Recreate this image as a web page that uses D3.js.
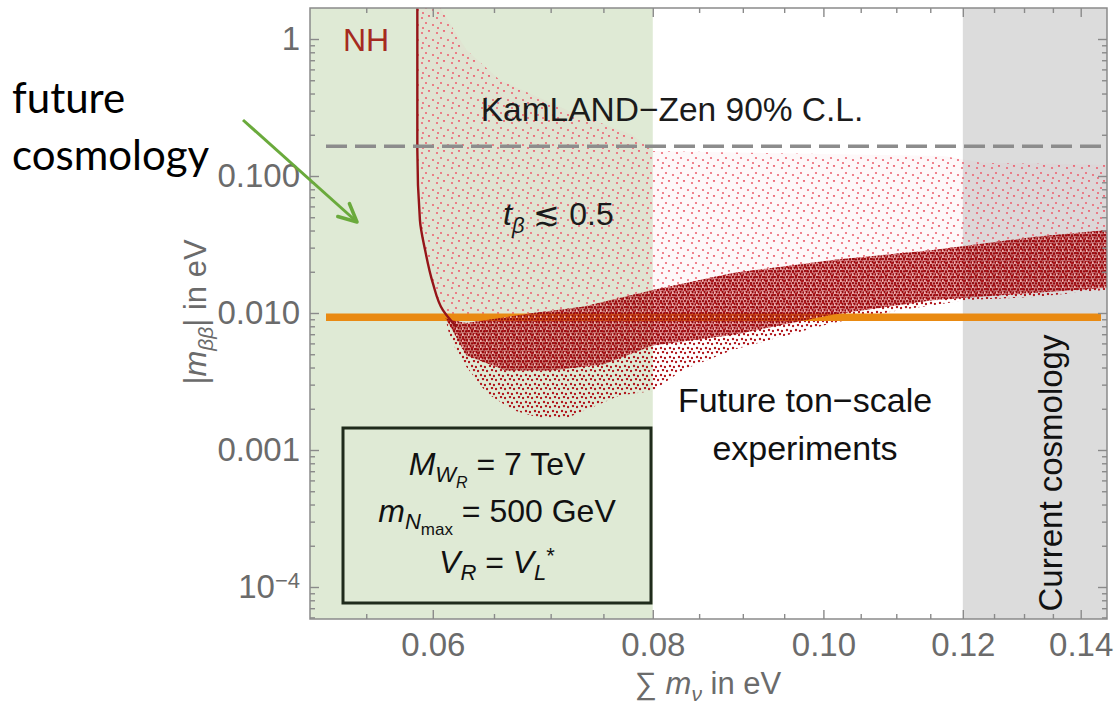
<!DOCTYPE html>
<html>
<head>
<meta charset="utf-8">
<script src="https://cdn.jsdelivr.net/npm/d3@7"></script>
<style>
body { margin: 0; background: #fff; }
svg { display: block; }
</style>
</head>
<body>
<div id="chart"></div>
<script>
// values: x = sum of neutrino masses (eV), y = |m_bb| (eV)
var edgeSum = [0.0588, 0.0588, 0.0590, 0.0594, 0.0600, 0.0608, 0.0619];
var edgeMbb = [1.68, 0.155, 0.0477, 0.0288, 0.0166, 0.0105, 0.0079];

var cloudTopSum = [0.0590, 0.0606, 0.0627, 0.0655, 0.0715, 0.0779, 0.0800, 0.1170, 0.1230, 0.1460];
var cloudTopMbb = [1.68, 1.68, 0.831, 0.502, 0.303, 0.199, 0.152, 0.140, 0.125, 0.120];

var bandUpperSum = [0.0610, 0.0614, 0.0627, 0.0684, 0.0730, 0.0800, 0.0888, 0.1012, 0.1154, 0.1316, 0.1460];
var bandUpperMbb = [0.0092, 0.0089, 0.00845, 0.0100, 0.0111, 0.0147, 0.0196, 0.0244, 0.0288, 0.0359, 0.0407];

var bandLowerSum = [0.0610, 0.0614, 0.0627, 0.0644, 0.0666, 0.0690, 0.0715, 0.0740, 0.0766, 0.0800, 0.0832, 0.0888, 0.1012, 0.1106, 0.1208, 0.1316, 0.1460];
var bandLowerMbb = [0.0092, 0.00635, 0.00403, 0.0026, 0.00196, 0.00171, 0.00171, 0.00206, 0.0025, 0.0027, 0.00384, 0.00537, 0.00845, 0.0105, 0.01245, 0.0131, 0.0149];

// lower edge of the densest part of the band
var coreLowerSum = [0.0610, 0.0627, 0.0660, 0.0700, 0.0750, 0.0800, 0.0888, 0.1012, 0.1154, 0.1316, 0.1460];
var coreLowerMbb = [0.0092, 0.0049, 0.0038, 0.0038, 0.0042, 0.0058, 0.0069, 0.0097, 0.0124, 0.0140, 0.0154];

var kamlandLimit = 0.165;
var tonScaleReach = 0.0093;
var futureCosmology = 0.08;
var currentCosmology = 0.12;

var xMajor = [0.06, 0.08, 0.10, 0.12, 0.14];
var xMajorLabels = ["0.06", "0.08", "0.10", "0.12", "0.14"];
var xMinor = [0.055, 0.065, 0.07, 0.075, 0.085, 0.09, 0.095, 0.105, 0.11, 0.115, 0.125, 0.13, 0.135];
var yMajor = [1, 0.1, 0.01, 0.001, 0.0001];
var yMajorLabels = ["1", "0.100", "0.010", "0.001", "10"];

var W = 1115, H = 717;
var pLeft = 310, pRight = 1107, pTop = 8, pBottom = 619;
var font = "'Liberation Sans', Arial, Helvetica, sans-serif";

var x = d3.scaleLog().domain([0.0511, 0.1449]).range([pLeft, pRight]);
var y = d3.scaleLog().domain([1.684, 5.84e-5]).range([pTop, pBottom]);

var svg = d3.select("#chart").append("svg")
    .attr("width", W)
    .attr("height", H)
    .style("font-family", font);

var defs = svg.append("defs");
defs.append("clipPath").attr("id", "plotClip")
    .append("rect")
    .attr("x", pLeft).attr("y", pTop)
    .attr("width", pRight - pLeft).attr("height", pBottom - pTop);

// scatter look for the sampled regions
function dotPattern(id, size, dots, r, color, base, baseOpacity) {
    var p = defs.append("pattern").attr("id", id)
        .attr("patternUnits", "userSpaceOnUse").attr("width", size).attr("height", size);
    if (base) p.append("rect").attr("width", size).attr("height", size).attr("fill", base).attr("opacity", baseOpacity);
    dots.forEach(function (d) {
        p.append("circle").attr("cx", d[0]).attr("cy", d[1]).attr("r", r).attr("fill", d[2] || color);
    });
}
dotPattern("lightDots", 15, [[2, 3], [9, 1], [6, 8], [13, 10], [3, 13]], 1.1, "#ec6674");
dotPattern("darkSparse", 9, [[1, 2], [6, 1], [4, 6], [8, 7]], 1.2, "#b0161c");
dotPattern("darkDense", 6, [[1, 1], [4, 1.5], [2.5, 4], [5.5, 4.5], [0.5, 5, "#f2b0b0"]], 1.15, "#930a0e", "#bb1a20", 0.5);

// shaded bands
svg.append("rect")
    .attr("x", x.range()[0]).attr("y", pTop)
    .attr("width", x(futureCosmology) - x.range()[0]).attr("height", pBottom - pTop)
    .attr("fill", "#dfead5");
svg.append("rect")
    .attr("x", x(currentCosmology)).attr("y", pTop)
    .attr("width", x.range()[1] - x(currentCosmology)).attr("height", pBottom - pTop)
    .attr("fill", "#dcdcdc");

var plot = svg.append("g").attr("clip-path", "url(#plotClip)");

function pts(xs, ys) {
    return xs.map(function (v, i) { return [x(v), y(ys[i])]; });
}

var cloud = pts(cloudTopSum, cloudTopMbb)
    .concat(pts(bandUpperSum, bandUpperMbb).reverse())
    .concat(pts(edgeSum, edgeMbb).reverse());
var band = pts(bandUpperSum, bandUpperMbb)
    .concat(pts(bandLowerSum, bandLowerMbb).reverse());
var core = pts(bandUpperSum, bandUpperMbb)
    .concat(pts(coreLowerSum, coreLowerMbb).reverse());

var area = d3.line().curve(d3.curveLinearClosed);
plot.append("path").attr("d", area(cloud)).attr("fill", "#f3a0a8").attr("opacity", 0.07);
plot.append("path").attr("d", area(cloud)).attr("fill", "url(#lightDots)");
plot.append("path").attr("d", area(band)).attr("fill", "url(#darkSparse)");

plot.append("line")
    .attr("x1", pLeft + 16).attr("x2", pRight - 6)
    .attr("y1", y(tonScaleReach)).attr("y2", y(tonScaleReach))
    .attr("stroke", "#e98a12").attr("stroke-width", 7.5);

plot.append("path").attr("d", area(core)).attr("fill", "url(#darkDense)");

plot.append("path")
    .attr("d", d3.line().curve(d3.curveMonotoneY)(pts(edgeSum, edgeMbb)))
    .attr("fill", "none")
    .attr("stroke", "#951418")
    .attr("stroke-width", 2.4);

// KamLAND-Zen limit
plot.append("line")
    .attr("x1", pLeft + 16).attr("x2", pRight - 6)
    .attr("y1", y(kamlandLimit)).attr("y2", y(kamlandLimit))
    .attr("stroke", "#8c8c8c").attr("stroke-width", 3.5)
    .attr("stroke-dasharray", "21,8");

// axes, ticks pointing inward on all four sides
function styleAxis(g) {
    g.select(".domain").remove();
    g.selectAll("line").attr("stroke", "#8a8a8a").attr("stroke-width", 1.4);
    g.selectAll("text").attr("fill", "#6b6b6b").style("font-size", "33px").style("font-family", font);
}
var yMinor = y.ticks().filter(function (v) { return yMajor.indexOf(v) < 0; });

svg.append("g").attr("transform", "translate(0," + pBottom + ")")
    .call(d3.axisBottom(x).tickValues(xMinor).tickSize(-5).tickFormat(""))
    .call(styleAxis);
svg.append("g").attr("transform", "translate(0," + pBottom + ")")
    .call(d3.axisBottom(x).tickValues(xMajor).tickSize(-9).tickPadding(14)
        .tickFormat(function (d, i) { return xMajorLabels[i]; }))
    .call(styleAxis);
svg.append("g").attr("transform", "translate(0," + pTop + ")")
    .call(d3.axisTop(x).tickValues(xMinor).tickSize(-5).tickFormat(""))
    .call(styleAxis);
svg.append("g").attr("transform", "translate(0," + pTop + ")")
    .call(d3.axisTop(x).tickValues(xMajor).tickSize(-9).tickFormat(""))
    .call(styleAxis);

svg.append("g").attr("transform", "translate(" + pLeft + ",0)")
    .call(d3.axisLeft(y).tickValues(yMinor).tickSize(-5).tickFormat(""))
    .call(styleAxis);
var yAx = svg.append("g").attr("transform", "translate(" + pLeft + ",0)")
    .call(d3.axisLeft(y).tickValues(yMajor).tickSize(-9).tickPadding(10)
        .tickFormat(function (d, i) { return yMajorLabels[i]; }))
    .call(styleAxis);
yAx.selectAll(".tick text").filter(function (d) { return d === 0.0001; })
    .append("tspan").attr("dy", "-0.45em").style("font-size", "22px").text("\u22124");
svg.append("g").attr("transform", "translate(" + pRight + ",0)")
    .call(d3.axisRight(y).tickValues(yMinor).tickSize(-5).tickFormat(""))
    .call(styleAxis);
svg.append("g").attr("transform", "translate(" + pRight + ",0)")
    .call(d3.axisRight(y).tickValues(yMajor).tickSize(-9).tickFormat(""))
    .call(styleAxis);

svg.append("rect")
    .attr("x", pLeft).attr("y", pTop)
    .attr("width", pRight - pLeft).attr("height", pBottom - pTop)
    .attr("fill", "none").attr("stroke", "#8a8a8a").attr("stroke-width", 1.5);

// rich text: parts = [text, italic, size, shift]
function rich(g, px, py, size, parts, anchor, fill) {
    var t = g.append("text").attr("x", px).attr("y", py)
        .attr("text-anchor", anchor || "middle")
        .attr("fill", fill || "#111")
        .style("font-size", size + "px");
    var prev = 0;
    parts.forEach(function (p) {
        var shift = p[3] || 0;
        t.append("tspan")
            .attr("dy", shift - prev)
            .style("font-style", p[1] ? "italic" : "normal")
            .style("font-size", (p[2] || size) + "px")
            .text(p[0]);
        prev = shift;
    });
    return t;
}

// axis titles
rich(svg, 708, 694, 31, [["\u2211 ", 0], ["m", 1], ["\u03bd", 1, 21, 7], [" in eV", 0, 31, 0]], "middle", "#6b6b6b");
var yt = svg.append("g").attr("transform", "translate(206,312) rotate(-90)");
rich(yt, 0, 0, 31, [["|", 0], ["m", 1], ["\u03b2\u03b2", 1, 21, 7], ["| in eV", 0, 31, 0]], "middle", "#6b6b6b");

// labels inside the plot
svg.append("text").attr("x", 343).attr("y", 51)
    .attr("fill", "#a52a20").style("font-size", "32px").text("NH");
svg.append("text").attr("x", 672).attr("y", 121).attr("text-anchor", "middle")
    .attr("fill", "#1b1b1b").style("font-size", "33.5px").text("KamLAND\u2212Zen 90% C.L.");
rich(svg, 503, 225, 32, [["t", 1], ["\u03b2", 1, 22, 8], [" \u2272 0.5", 0, 32, 0]], "start", "#1b1b1b");
svg.append("text").attr("x", 805).attr("y", 412).attr("text-anchor", "middle")
    .attr("fill", "#111").style("font-size", "34px").text("Future ton\u2212scale");
svg.append("text").attr("x", 805).attr("y", 460).attr("text-anchor", "middle")
    .attr("fill", "#111").style("font-size", "34px").text("experiments");
svg.append("text").attr("transform", "translate(1062,473) rotate(-90)").attr("text-anchor", "middle")
    .attr("fill", "#111").style("font-size", "33px").text("Current cosmology");

// parameter box
svg.append("rect")
    .attr("x", 343).attr("y", 428).attr("width", 308).attr("height", 175)
    .attr("fill", "#dfead5").attr("stroke", "#1f2b1b").attr("stroke-width", 3);
rich(svg, 497, 475, 32, [["M", 1], ["W", 1, 22, 7], ["R", 1, 16, 13], [" = 7 TeV", 0, 32, 0]]);
rich(svg, 497, 522, 32, [["m", 1], ["N", 1, 22, 7], ["max", 0, 17, 13], [" = 500 GeV", 0, 32, 0]]);
rich(svg, 497, 573, 32, [["V", 1], ["R", 1, 22, 7], [" = ", 0, 32, 0], ["V", 1], ["L", 1, 22, 7], ["*", 0, 22, -10]]);

// annotation outside the frame
svg.append("text").attr("x", 12).attr("y", 113)
    .style("font-family", "Lato, 'Open Sans', sans-serif").style("font-size", "42px").attr("fill", "#000").text("future");
svg.append("text").attr("x", 12).attr("y", 170)
    .style("font-family", "Lato, 'Open Sans', sans-serif").style("font-size", "42px").attr("fill", "#000").text("cosmology");
var ax0 = [243, 120], ax1 = [357, 222];
var ang = Math.atan2(ax1[1] - ax0[1], ax1[0] - ax0[0]);
svg.append("line").attr("x1", ax0[0]).attr("y1", ax0[1]).attr("x2", ax1[0]).attr("y2", ax1[1])
    .attr("stroke", "#6aaa3c").attr("stroke-width", 3);
var head = [-0.45, 0.45].map(function (da) {
    return [ax1[0] - 20 * Math.cos(ang + da), ax1[1] - 20 * Math.sin(ang + da)];
});
svg.append("path")
    .attr("d", "M" + head[0] + "L" + ax1 + "L" + head[1])
    .attr("fill", "none").attr("stroke", "#6aaa3c").attr("stroke-width", 3.5)
    .attr("stroke-linecap", "round").attr("stroke-linejoin", "round");
</script>
</body>
</html>
